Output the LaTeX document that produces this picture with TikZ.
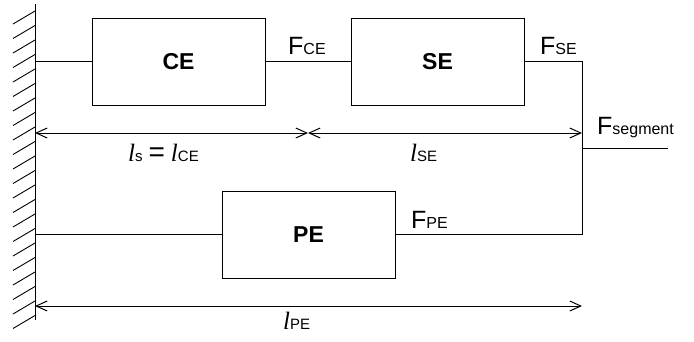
\documentclass[tikz,border=0pt]{standalone}
\usepackage{fontspec}
\setmainfont{Liberation Sans}
\newfontfamily\lfont{Liberation Serif}
\usetikzlibrary{arrows.meta}
\newcommand{\Fsym}[1]{{\fontsize{25}{25}\selectfont F}{\fontsize{16}{16}\selectfont #1}}
\newcommand{\Lsym}[1]{{\lfont\itshape\fontsize{25}{25}\selectfont l}{\fontsize{15}{15}\selectfont #1}}
\tikzset{
  elem/.style={draw, line width=1pt, minimum width=173pt, minimum height=87pt, inner sep=0pt,
    font=\fontsize{23}{23}\selectfont\bfseries},
  lbl/.style={anchor=base west, inner sep=0pt},
  conn/.style={line width=1pt},
  dim/.style={line width=1pt, {Straight Barb[length=11pt,width=10pt]}-{Straight Barb[length=11pt,width=10pt]}},
}
\begin{document}
\begin{tikzpicture}[x=1pt,y=-1pt]
\useasboundingbox (0,0) rectangle (694,341);
% wall
\draw[line width=1pt] (35,4) -- (35,320);
\foreach \i in {0,...,21} \draw[line width=0.9pt] (35,11+\i*14.5) -- (13,24+\i*14.5);
% elements
\node[elem] (ce) at (178.5,61.5) {CE};
\node[elem] (se) at (437.5,61.5) {SE};
\node[elem] (pe) at (308.5,234.5) {PE};
% coordinates
\coordinate (w1) at (35,61.5);
\coordinate (w2) at (35,234.5);
\coordinate (j1) at (582,61.5);
\coordinate (j2) at (582,234.5);
\coordinate (js) at (582,148);
\coordinate (fs) at (668,148);
\coordinate (a1) at (35,133);
\coordinate (m1) at (308,133);
\coordinate (a2) at (582,133);
\coordinate (b1) at (35,306);
\coordinate (b2) at (582,306);
% connectors
\draw[conn] (w1) -- (ce.west);
\draw[conn] (ce.east) -- (se.west);
\draw[conn] (se.east) -- (j1) -- (j2) -- (pe.east);
\draw[conn] (w2) -- (pe.west);
\draw[conn] (js) -- (fs);
% dimensions
\draw[dim] (a1) -- (m1);
\draw[dim] (m1) -- (a2);
\draw[dim] (b1) -- (b2);
% labels
\node[lbl] (fce) at (288,54) {\Fsym{CE}};
\node[lbl] (fse) at (540,54) {\Fsym{SE}};
\node[lbl] (fseg) at (597,134) {\Fsym{segment}};
\node[lbl] (fpe) at (411,228) {\Fsym{PE}};
\node[lbl] (lce) at (128,161) {\Lsym{s}\hspace{6pt}{\fontsize{28}{28}\selectfont =}\hspace{6pt}\Lsym{CE}};
\node[lbl] (lse) at (410,161) {\Lsym{SE}};
\node[lbl] (lpe) at (283,329) {\Lsym{PE}};
\end{tikzpicture}
\end{document}
